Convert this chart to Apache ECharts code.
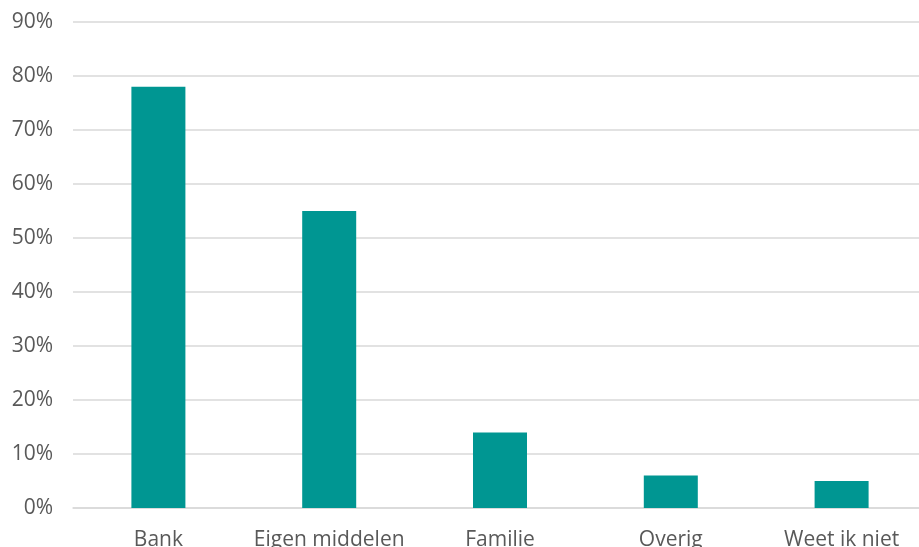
<!DOCTYPE html>
<html><head><meta charset="utf-8">
<script src="https://cdn.jsdelivr.net/npm/echarts@6/dist/echarts.min.js"></script>
<style>html,body{margin:0;padding:0;background:#fff}#c{width:919px;height:547px}</style>
</head><body><div id="c"></div>
<script>
const categories = ['Bank', 'Eigen middelen', 'Familie', 'Overig', 'Weet ik niet'];
const values = [78, 55, 14, 6, 5];
const yTicks = [0, 10, 20, 30, 40, 50, 60, 70, 80, 90];

const chart = echarts.init(document.getElementById('c'));
chart.setOption({
  animation: false,
  grid: { left: 73, top: 22, width: 854, height: 486, containLabel: false, outerBoundsMode: 'none' },
  xAxis: {
    type: 'category', data: categories,
    axisLine: { show: true, lineStyle: { color: '#d9d9d9', width: 1.5 } },
    axisTick: { show: false },
    axisLabel: { color: '#595959', fontSize: 21, fontFamily: 'Open Sans', margin: 22, interval: 0 }
  },
  yAxis: {
    type: 'value', min: yTicks[0], max: yTicks[yTicks.length - 1], interval: 10,
    axisLine: { show: false }, axisTick: { show: false },
    splitLine: { lineStyle: { color: '#d9d9d9', width: 1.5 } },
    axisLabel: { color: '#595959', fontSize: 21, fontFamily: 'Open Sans', margin: 20, formatter: '{value}%' }
  },
  series: [{
    type: 'bar', data: values, barWidth: 54,
    itemStyle: { color: '#009692' }
  }]
});
</script></body></html>
